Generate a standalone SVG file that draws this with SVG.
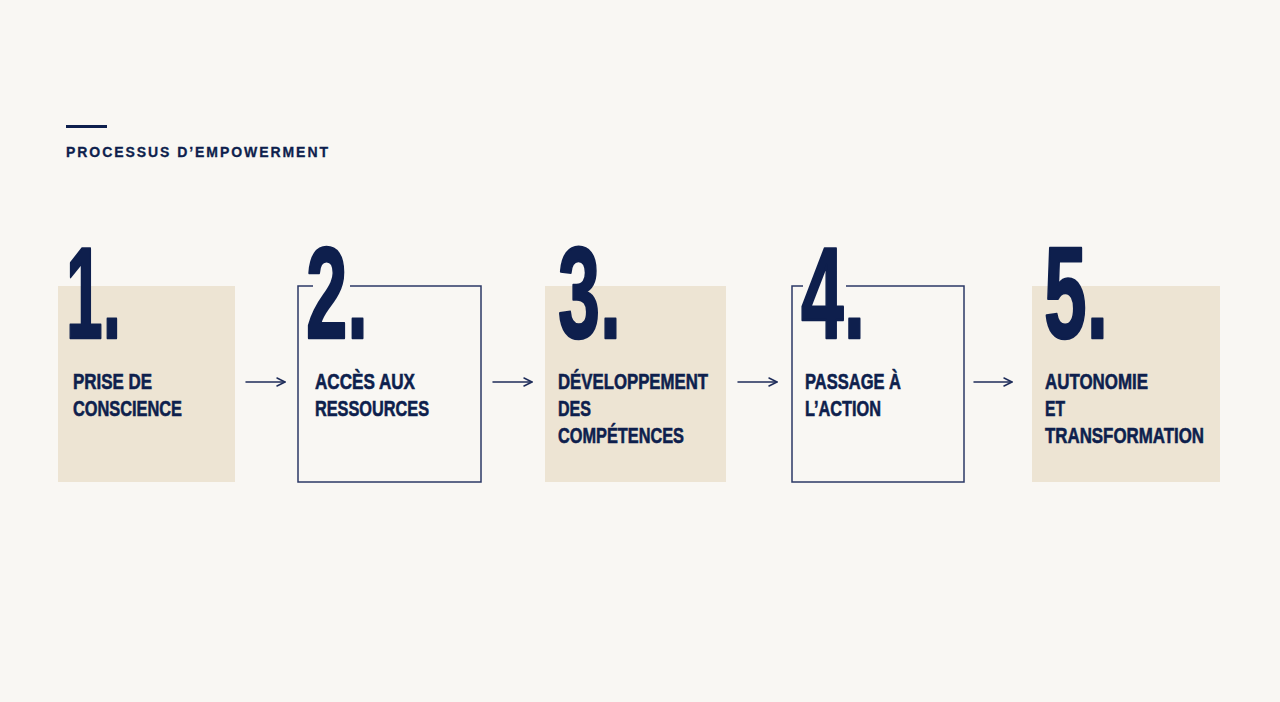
<svg xmlns="http://www.w3.org/2000/svg" width="1280" height="702" viewBox="0 0 1280 702">
<defs>
<style>
.bg{fill:#f9f7f3}
.fill{fill:#ede4d3}
.outline{fill:none;stroke:#2b3865;stroke-width:1.5}
.t{font-family:"Liberation Sans Narrow","Liberation Sans",Arial,sans-serif;font-weight:bold;fill:#0e1f4d}
.num{font-size:130px;stroke:#0e1f4d;stroke-width:2.5;stroke-linejoin:round}
.lbl{font-size:22px;stroke:#0e1f4d;stroke-width:0.6}
.title{font-size:14px;letter-spacing:2px;stroke:#0e1f4d;stroke-width:0.3}
.arrow{fill:none;stroke:#1f2d5a;stroke-width:1.5;stroke-linecap:round;stroke-linejoin:round}
</style>
<marker id="ah" viewBox="0 0 10 10" refX="9" refY="5" markerWidth="10" markerHeight="10" markerUnits="userSpaceOnUse" orient="auto">
<path d="M1,1 L9,5 L1,9" fill="none" stroke="#1f2d5a" stroke-width="1.5" stroke-linecap="round" stroke-linejoin="round"/>
</marker>
</defs>
<rect class="bg" x="0" y="0" width="1280" height="702"/>
<g id="header">
<rect x="66" y="125" width="41" height="3" fill="#0e1f4d"/>
<text class="t title" x="66" y="157" textLength="264" lengthAdjust="spacing">PROCESSUS D’EMPOWERMENT</text>
</g>
<g id="step1">
<rect class="fill" x="58" y="286" width="177" height="196"/>
<text class="t num" x="66" y="338" textLength="55" lengthAdjust="spacingAndGlyphs">1.</text>
<text class="t lbl" x="73" y="389" textLength="79" lengthAdjust="spacingAndGlyphs">PRISE DE</text>
<text class="t lbl" x="73" y="416" textLength="109" lengthAdjust="spacingAndGlyphs">CONSCIENCE</text>
</g>
<g id="step2">
<rect class="outline" x="298" y="286" width="183" height="196"/>
<rect class="bg" x="313" y="283" width="37" height="6"/>
<text class="t num" x="306" y="338" textLength="62" lengthAdjust="spacingAndGlyphs">2.</text>
<text class="t lbl" x="315" y="389" textLength="100" lengthAdjust="spacingAndGlyphs">ACCÈS AUX</text>
<text class="t lbl" x="315" y="416" textLength="114" lengthAdjust="spacingAndGlyphs">RESSOURCES</text>
</g>
<g id="step3">
<rect class="fill" x="545" y="286" width="181" height="196"/>
<text class="t num" x="558" y="338" textLength="63" lengthAdjust="spacingAndGlyphs">3.</text>
<text class="t lbl" x="558" y="389" textLength="150" lengthAdjust="spacingAndGlyphs">DÉVELOPPEMENT</text>
<text class="t lbl" x="558" y="416" textLength="33" lengthAdjust="spacingAndGlyphs">DES</text>
<text class="t lbl" x="558" y="443" textLength="126" lengthAdjust="spacingAndGlyphs">COMPÉTENCES</text>
</g>
<g id="step4">
<rect class="outline" x="792" y="286" width="172" height="196"/>
<rect class="bg" x="803" y="283" width="43" height="6"/>
<text class="t num" x="801" y="338" textLength="64" lengthAdjust="spacingAndGlyphs">4.</text>
<text class="t lbl" x="805" y="389" textLength="96" lengthAdjust="spacingAndGlyphs">PASSAGE À</text>
<text class="t lbl" x="805" y="416" textLength="76" lengthAdjust="spacingAndGlyphs">L’ACTION</text>
</g>
<g id="step5">
<rect class="fill" x="1032" y="286" width="188" height="196"/>
<text class="t num" x="1044" y="338" textLength="64" lengthAdjust="spacingAndGlyphs">5.</text>
<text class="t lbl" x="1045" y="389" textLength="103" lengthAdjust="spacingAndGlyphs">AUTONOMIE</text>
<text class="t lbl" x="1045" y="416" textLength="20" lengthAdjust="spacingAndGlyphs">ET</text>
<text class="t lbl" x="1045" y="443" textLength="159" lengthAdjust="spacingAndGlyphs">TRANSFORMATION</text>
</g>
<g id="connectors">
<line class="arrow" x1="246" y1="382" x2="285" y2="382" marker-end="url(#ah)"/>
<line class="arrow" x1="493" y1="382" x2="532" y2="382" marker-end="url(#ah)"/>
<line class="arrow" x1="738" y1="382" x2="777" y2="382" marker-end="url(#ah)"/>
<line class="arrow" x1="974" y1="382" x2="1012" y2="382" marker-end="url(#ah)"/>
</g>
</svg>
